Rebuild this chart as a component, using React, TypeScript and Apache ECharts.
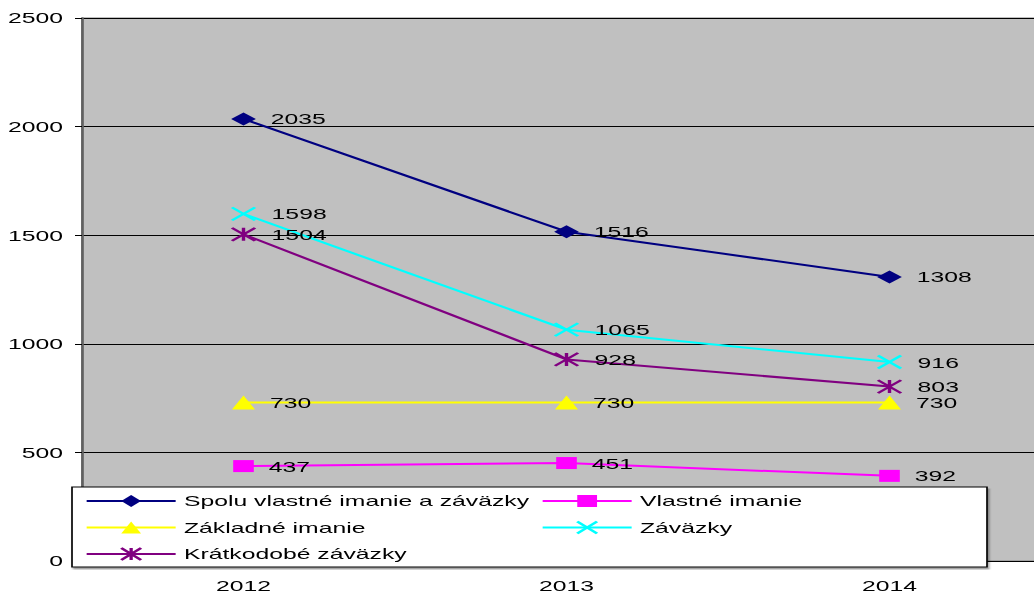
import React, { useEffect, useRef } from "react";
import * as echarts from "echarts";

const categories = ["2012", "2013", "2014"];
const seriesNames = [
  "Spolu vlastné imanie a záväzky",
  "Vlastné imanie",
  "Základné imanie",
  "Záväzky",
  "Krátkodobé záväzky",
];
const totalEqLiab = [2035, 1516, 1308];
const equity = [437, 451, 392];
const baseCapital = [730, 730, 730];
const liabilities = [1598, 1065, 916];
const shortLiab = [1504, 928, 803];
const yTicks = [0, 500, 1000, 1500, 2000, 2500];

const S = 1.65; // horizontal stretch of the original picture
const W = 1034 / S + 30; // a bit wider than the window, clipped by the outer box
const H = 594;
const FONT = "'Liberation Sans', Arial, sans-serif";

export default function App() {
  const ref = useRef<HTMLDivElement>(null);
  useEffect(() => {
    if (!ref.current) return;
    const chart = echarts.init(ref.current, undefined, { renderer: "svg" });
    const label = {
      show: true,
      position: "right",
      distance: 9,
      color: "#000",
      fontSize: 15,
      fontFamily: FONT,
    };
    const mk = (
      name: string,
      data: number[],
      color: string,
      symbol: string,
      symbolSize: number[],
      stroke: boolean
    ) => ({
      type: "line",
      name,
      data,
      symbol,
      symbolSize,
      showAllSymbol: true,
      lineStyle: { color, width: 2 },
      itemStyle: stroke
        ? { color, borderColor: color, borderWidth: 2 }
        : { color, borderWidth: 0 },
      label,
      emphasis: { disabled: true },
      z: 3,
    });
    const legendCommon = {
      orient: "vertical",
      top: 493.5,
      padding: 0,
      itemWidth: 89 / S,
      itemHeight: 15,
      itemGap: 11.5,
      z: 60,
      textStyle: { color: "#000", fontSize: 15, fontFamily: FONT },
      selectedMode: false,
    };
    chart.setOption({
      animation: false,
      backgroundColor: "#fff",
      textStyle: { fontFamily: FONT },
      grid: {
        left: 82 / S,
        top: 18,
        width: 969 / S,
        height: 543,
        show: true,
        backgroundColor: "#c0c0c0",
        borderColor: "#808080",
        borderWidth: 1,
      },
      xAxis: {
        type: "category",
        data: categories,
        boundaryGap: true,
        axisLine: { show: true, lineStyle: { color: "#000", width: 1 } },
        axisTick: { show: false },
        axisLabel: { color: "#000", fontSize: 15, fontFamily: FONT, margin: 17 },
      },
      yAxis: {
        type: "value",
        min: yTicks[0],
        max: yTicks[yTicks.length - 1],
        interval: yTicks[1] - yTicks[0],
        axisLine: { show: true, lineStyle: { color: "#606060", width: 1.6 } },
        axisTick: { show: true, length: 7 / S, lineStyle: { color: "#000" } },
        axisLabel: {
          color: "#000",
          fontSize: 15,
          fontFamily: FONT,
          margin: 11.5,
          formatter: (v: number) => String(v),
        },
        splitLine: { show: true, lineStyle: { color: "#000", width: 1 } },
      },
      legend: [
        { ...legendCommon, left: 85 / S, data: [seriesNames[0], seriesNames[2], seriesNames[4]] },
        { ...legendCommon, left: 541 / S, data: [seriesNames[1], seriesNames[3]] },
      ],
      graphic: [
        {
          type: "rect",
          z: 50,
          shape: { x: 72 / S, y: 487, width: 915 / S, height: 80 },
          style: {
            fill: "#fff",
            stroke: "#000",
            lineWidth: 1,
            shadowColor: "rgba(0,0,0,0.35)",
            shadowOffsetX: 1,
            shadowOffsetY: 2,
            shadowBlur: 1,
          },
          silent: true,
        },
      ],
      series: [
        mk(seriesNames[0], totalEqLiab, "#000080", "diamond", [15, 13], false),
        mk(seriesNames[1], equity, "#ff00ff", "rect", [12.5, 12], false),
        mk(seriesNames[2], baseCapital, "#ffff00", "triangle", [14, 14], false),
        mk(seriesNames[3], liabilities, "#00ffff", "path://M0,0L10,10M10,0L0,10", [14, 13], true),
        mk(seriesNames[4], shortLiab, "#800080", "path://M0,0L10,10M10,0L0,10M5,0L5,10", [14, 13], true),
      ],
    });
    return () => chart.dispose();
  }, []);
  return (
    <div
      style={{
        position: "fixed",
        left: 0,
        top: 0,
        width: 1034,
        height: H,
        overflow: "hidden",
        background: "#fff",
      }}
    >
      <div
        ref={ref}
        style={{
          width: W,
          height: H,
          transform: `scaleX(${S})`,
          transformOrigin: "0 0",
        }}
      />
    </div>
  );
}
